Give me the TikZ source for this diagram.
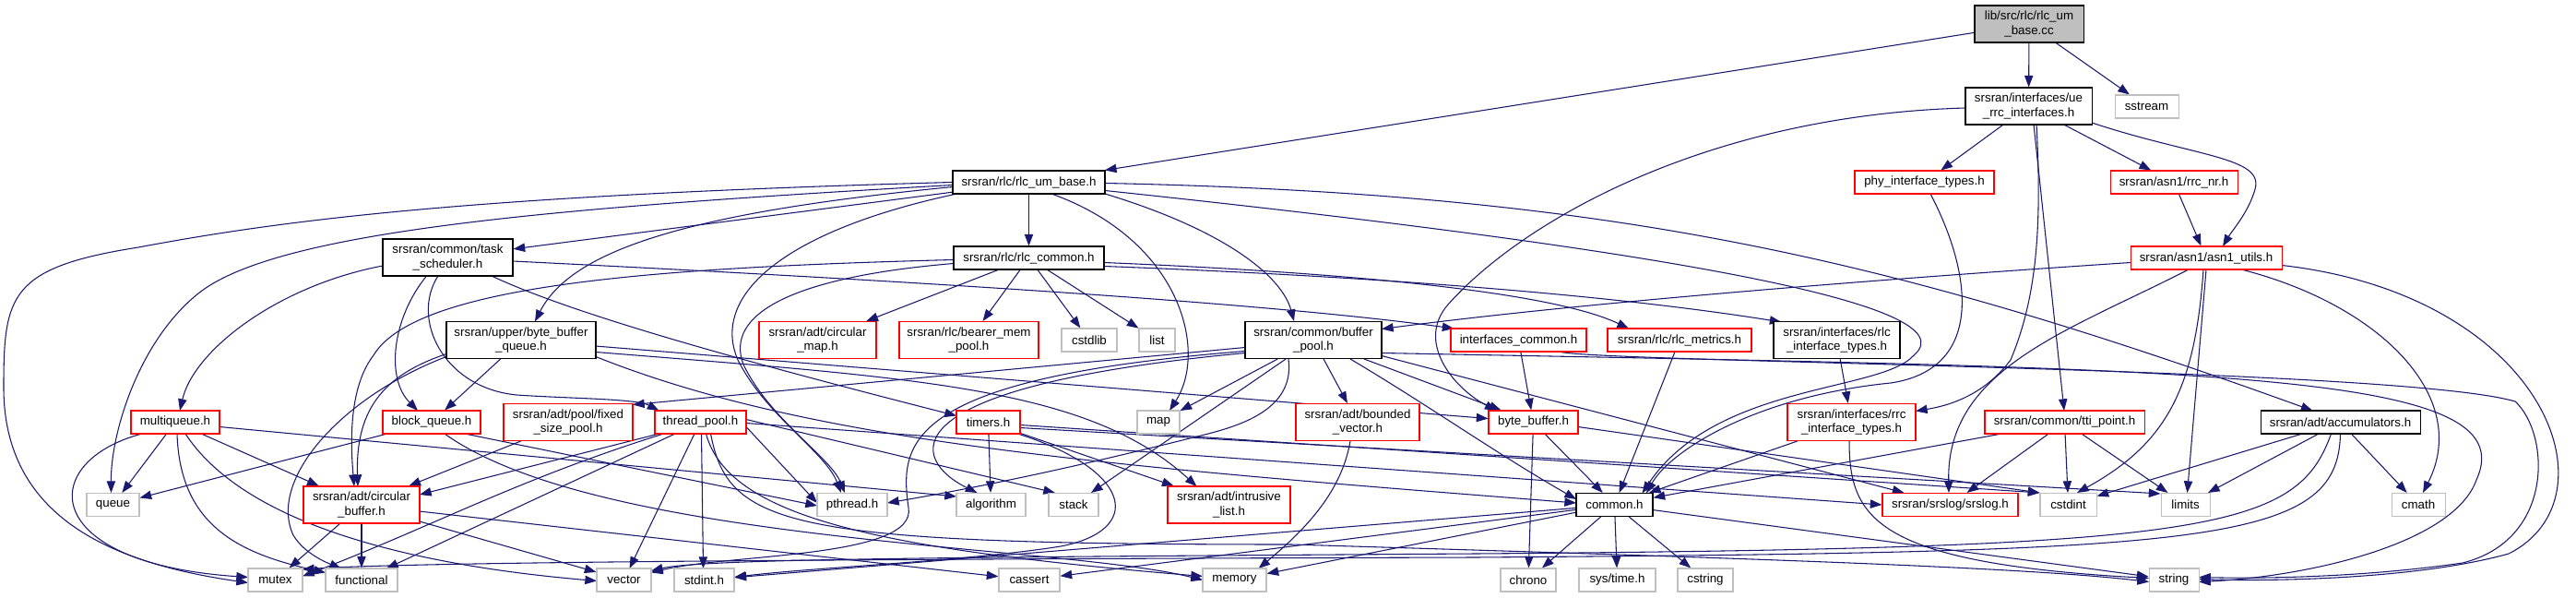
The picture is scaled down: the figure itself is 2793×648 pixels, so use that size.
\documentclass[tikz,border=0pt]{standalone}
\usepackage{fontspec}
\setmainfont{Liberation Sans}
\usetikzlibrary{arrows.meta,calc,backgrounds}
\definecolor{edgec}{HTML}{191970}
\definecolor{redb}{HTML}{FF0000}
\definecolor{grayb}{HTML}{BFBFBF}
\definecolor{rootf}{HTML}{BFBFBF}
\tikzset{
  box/.style={draw=black, line width=0.8pt, inner sep=0pt, align=center, fill=white,
    font=\fontsize{10}{11.5}\selectfont, text=black},
  redbox/.style={box, draw=redb},
  graybox/.style={box, draw=grayb},
  ed/.style={draw=edgec, line width=0.8pt, -{Triangle[length=9.5pt,width=7pt]}},
}
\begin{document}
\begin{tikzpicture}[x=0.75pt,y=-0.75pt]
\useasboundingbox (0,0) rectangle (2793,648);
% ---------------- nodes ----------------
\node[box, fill=rootf, minimum width=118*0.75pt, minimum height=40*0.75pt] (root) at (2200,26) {lib/src/rlc/rlc\_um\\\_base.cc};
\node[box, minimum width=137*0.75pt, minimum height=40*0.75pt] (uerrc) at (2199.5,115) {srsran/interfaces/ue\\\_rrc\_interfaces.h};
\node[graybox, minimum width=69*0.75pt, minimum height=25*0.75pt] (sstream) at (2327.5,115.5) {sstream};
\node[box, minimum width=165*0.75pt, minimum height=25*0.75pt] (rlcumbase) at (1115.5,197.5) {srsran/rlc/rlc\_um\_base.h};
\node[redbox, minimum width=151*0.75pt, minimum height=25*0.75pt] (phy) at (2086.5,197.5) {phy\_interface\_types.h};
\node[redbox, minimum width=138*0.75pt, minimum height=25*0.75pt] (rrcnr) at (2357,197.5) {srsran/asn1/rrc\_nr.h};
\node[box, minimum width=141*0.75pt, minimum height=40*0.75pt] (task) at (485.5,279) {srsran/common/task\\\_scheduler.h};
\node[box, minimum width=163*0.75pt, minimum height=25*0.75pt] (rlccommon) at (1115.5,279.5) {srsran/rlc/rlc\_common.h};
\node[redbox, minimum width=164*0.75pt, minimum height=25*0.75pt] (asn1) at (2392,279.5) {srsran/asn1/asn1\_utils.h};
\node[box, minimum width=162*0.75pt, minimum height=40*0.75pt] (bbq) at (565,368.5) {srsran/upper/byte\_buffer\\\_queue.h};
\node[redbox, minimum width=127*0.75pt, minimum height=40*0.75pt] (circmap) at (886.5,368.5) {srsran/adt/circular\\\_map.h};
\node[redbox, minimum width=151*0.75pt, minimum height=40*0.75pt] (bearer) at (1050.5,368.5) {srsran/rlc/bearer\_mem\\\_pool.h};
\node[graybox, minimum width=60*0.75pt, minimum height=25*0.75pt] (cstdlib) at (1181,368.5) {cstdlib};
\node[graybox, minimum width=39*0.75pt, minimum height=25*0.75pt] (list) at (1254.5,368.5) {list};
\node[box, minimum width=148*0.75pt, minimum height=40*0.75pt] (bufpool) at (1424,368.5) {srsran/common/buffer\\\_pool.h};
\node[redbox, minimum width=147*0.75pt, minimum height=25*0.75pt] (ifcommon) at (1646.5,368.5) {interfaces\_common.h};
\node[redbox, minimum width=156*0.75pt, minimum height=25*0.75pt] (rlcmetrics) at (1821,368.5) {srsran/rlc/rlc\_metrics.h};
\node[box, minimum width=137*0.75pt, minimum height=40*0.75pt] (rlcif) at (1991.5,368.5) {srsran/interfaces/rlc\\\_interface\_types.h};
\node[redbox, minimum width=96*0.75pt, minimum height=25*0.75pt] (multiqueue) at (190,457.5) {multiqueue.h};
\node[redbox, minimum width=106*0.75pt, minimum height=25*0.75pt] (blockq) at (468,457.5) {block\_queue.h};
\node[redbox, minimum width=140*0.75pt, minimum height=40*0.75pt] (fixedpool) at (616,457.5) {srsran/adt/pool/fixed\\\_size\_pool.h};
\node[redbox, minimum width=99*0.75pt, minimum height=25*0.75pt] (threadpool) at (759.5,457.5) {thread\_pool.h};
\node[redbox, minimum width=69*0.75pt, minimum height=25*0.75pt] (timers) at (1071.5,457.5) {timers.h};
\node[graybox, minimum width=46*0.75pt, minimum height=25*0.75pt] (map) at (1256,457.5) {map};
\node[redbox, minimum width=134*0.75pt, minimum height=40*0.75pt] (boundedvec) at (1472,457.5) {srsran/adt/bounded\\\_vector.h};
\node[redbox, minimum width=97*0.75pt, minimum height=25*0.75pt] (bytebuffer) at (1662.5,457.5) {byte\_buffer.h};
\node[redbox, minimum width=139*0.75pt, minimum height=40*0.75pt] (rrcif) at (2007.5,457.5) {srsran/interfaces/rrc\\\_interface\_types.h};
\node[redbox, minimum width=173*0.75pt, minimum height=25*0.75pt] (tti) at (2238.5,457.5) {srsran/common/tti\_point.h};
\node[box, minimum width=173*0.75pt, minimum height=25*0.75pt] (accum) at (2537.5,457.5) {srsran/adt/accumulators.h};
\node[graybox, minimum width=57*0.75pt, minimum height=25*0.75pt] (queue) at (122.5,547) {queue};
\node[redbox, minimum width=126*0.75pt, minimum height=40*0.75pt] (circbuf) at (392,547) {srsran/adt/circular\\\_buffer.h};
\node[graybox, minimum width=76*0.75pt, minimum height=25*0.75pt] (pthread) at (924,547) {pthread.h};
\node[graybox, minimum width=75*0.75pt, minimum height=25*0.75pt] (algorithm) at (1074.5,547) {algorithm};
\node[graybox, minimum width=54*0.75pt, minimum height=25*0.75pt] (stack) at (1164,547) {stack};
\node[redbox, minimum width=133*0.75pt, minimum height=40*0.75pt] (intrusive) at (1332.5,547) {srsran/adt/intrusive\\\_list.h};
\node[box, minimum width=83*0.75pt, minimum height=25*0.75pt] (common) at (1750.5,547) {common.h};
\node[redbox, minimum width=147*0.75pt, minimum height=25*0.75pt] (srslog) at (2114.5,547) {srsran/srslog/srslog.h};
\node[graybox, minimum width=61*0.75pt, minimum height=25*0.75pt] (cstdint) at (2242.5,547) {cstdint};
\node[graybox, minimum width=53*0.75pt, minimum height=25*0.75pt] (limits) at (2369.5,547) {limits};
\node[graybox, minimum width=58*0.75pt, minimum height=25*0.75pt] (cmath) at (2622,547) {cmath};
\node[graybox, minimum width=59*0.75pt, minimum height=25*0.75pt] (mutex) at (298.5,628.5) {mutex};
\node[graybox, minimum width=78*0.75pt, minimum height=25*0.75pt] (functional) at (392,628.5) {functional};
\node[graybox, minimum width=59*0.75pt, minimum height=25*0.75pt] (vector) at (676.5,628.5) {vector};
\node[graybox, minimum width=65*0.75pt, minimum height=25*0.75pt] (stdint) at (763.5,628.5) {stdint.h};
\node[graybox, minimum width=66*0.75pt, minimum height=25*0.75pt] (cassert) at (1116,628.5) {cassert};
\node[graybox, minimum width=69*0.75pt, minimum height=25*0.75pt] (memory) at (1338.5,628.5) {memory};
\node[graybox, minimum width=60*0.75pt, minimum height=25*0.75pt] (chrono) at (1657,628.5) {chrono};
\node[graybox, minimum width=83*0.75pt, minimum height=25*0.75pt] (systime) at (1753.5,628.5) {sys/time.h};
\node[graybox, minimum width=60*0.75pt, minimum height=25*0.75pt] (cstring) at (1849,628.5) {cstring};
\node[graybox, minimum width=54*0.75pt, minimum height=25*0.75pt] (string) at (2357,628.5) {string};
% ---------------- edges ----------------
\begin{pgfonlayer}{background}
\fill[white] (0,0) rectangle (2793,648);
% root
\draw[ed] (root) -- (rlcumbase);
\draw[ed] (root) -- (uerrc);
\draw[ed] (root) -- (sstream);
% ue_rrc_interfaces
\draw[ed] (uerrc) -- (phy);
\draw[ed] (uerrc) -- (rrcnr);
\draw[ed] ($(uerrc)+(5.5,20)$) -- ($(tti)+(-0.5,-12.5)$);
\draw[ed] ($(uerrc)+(68.5,18)$) .. controls (2380,170) and (2455,170) .. (2445,205) .. controls (2438,230) and (2420,250) .. ($(asn1)+(18,-12.5)$);
\draw[ed] ($(uerrc)+(-68.5,2)$) .. controls (1850,125) and (1650,240) .. (1570,330) .. controls (1535,370) and (1575,420) .. ($(bytebuffer)+(-40,-12.5)$);
\draw[ed] ($(uerrc)+(8.5,20)$) .. controls (2215,260) and (2205,330) .. (2180,390) .. controls (2150,430) and (2110,440) .. ($(rrcif)+(69.5,-12)$);
\draw[ed] (rrcnr) -- (asn1);
\draw[ed] ($(phy)+(6.5,12.5)$) .. controls (2140,300) and (2150,400) .. (2050,415) .. controls (1900,430) and (1810,490) .. ($(common)+(34.5,-12.5)$);
% asn1_utils
\draw[ed] ($(asn1)+(-82,5)$) .. controls (2000,305) and (1700,330) .. ($(bufpool)+(74,-12)$);
\draw[ed] ($(asn1)+(-19,12.5)$) .. controls (2240,360) and (2110,400) .. ($(srslog)+(-1.5,-13)$);
\draw[ed] ($(asn1)+(-3,12.5)$) .. controls (2380,420) and (2350,480) .. ($(cstdint)+(9.5,-13)$);
\draw[ed] ($(asn1)+(0,12.5)$) -- ($(limits)+(2,-13)$);
\draw[ed] ($(asn1)+(38,12.5)$) .. controls (2580,330) and (2680,430) .. ($(cmath)+(5,-13)$);
\draw[ed] ($(asn1)+(82,8)$) .. controls (2760,320) and (2840,540) .. (2720,600) .. controls (2620,628) and (2460,630) .. ($(string)+(27,-1)$);
% rlc_um_base.h
\draw[ed] (rlcumbase) -- (task);
\draw[ed] (rlcumbase) -- (rlccommon);
\draw[ed] ($(rlcumbase)+(-82.5,5)$) .. controls (750,230) and (620,270) .. ($(bbq)+(15,-20)$);
\draw[ed] ($(rlcumbase)+(82.5,12.5)$) .. controls (1330,250) and (1390,300) .. ($(bufpool)+(-21,-20.5)$);
\draw[ed] ($(rlcumbase)+(82.5,1)$) .. controls (1750,210) and (2050,280) .. ($(accum)+(-30,-12.5)$);
\draw[ed] ($(rlcumbase)+(82.5,9)$) .. controls (1800,270) and (2140,330) .. (2075,385) .. controls (2040,425) and (1860,415) .. ($(common)+(30,-12.5)$);
\draw[ed] ($(rlcumbase)+(24.5,12.5)$) .. controls (1280,260) and (1310,380) .. ($(map)+(12,-12.5)$);
\draw[ed] (rlcumbase.west) .. controls (500,212) and (300,240) .. (150,268) .. controls (10,290) and (4,320) .. (4,420) .. controls (4,560) and (120,610) .. ($(mutex)+(-29.5,3)$);
\draw[ed] ($(rlcumbase)+(-82.5,3)$) .. controls (600,225) and (300,250) .. (215,318) .. controls (150,370) and (120,470) .. ($(queue)+(-2,-13)$);
\draw[ed] ($(rlcumbase)+(-78,12.5)$) .. controls (850,250) and (770,320) .. (800,390) .. controls (830,450) and (895,490) .. ($(pthread)+(-12,-13)$);
% rlc_common.h
\draw[ed] (rlccommon) -- (circmap);
\draw[ed] (rlccommon) -- (bearer);
\draw[ed] (rlccommon) -- (cstdlib);
\draw[ed] (rlccommon) -- (list);
\draw[ed] ($(rlccommon)+(81.5,5)$) .. controls (1450,295) and (1680,315) .. ($(rlcmetrics)+(-55,-12.5)$);
\draw[ed] ($(rlccommon)+(81.5,9)$) .. controls (1500,300) and (1750,320) .. ($(rlcif)+(-60,-19.5)$);
\draw[ed] ($(rlccommon)+(-81.5,2)$) .. controls (700,290) and (450,310) .. (405,385) .. controls (378,420) and (380,480) .. ($(circbuf)+(-8,-20)$);
\draw[ed] ($(rlccommon)+(-81.5,6)$) .. controls (860,300) and (785,340) .. (806,395) .. controls (835,455) and (900,495) .. ($(pthread)+(-8,-13)$);
% task_scheduler.h
\draw[ed] ($(task)+(-70.5,9)$) .. controls (300,310) and (210,380) .. ($(multiqueue)+(5,-12.5)$);
\draw[ed] ($(task)+(-10.5,20)$) .. controls (445,345) and (480,420) .. (560,428) .. controls (620,432) and (690,432) .. ($(threadpool)+(-45,-12.5)$);
\draw[ed] ($(task)+(-23,20)$) .. controls (425,345) and (418,410) .. ($(blockq)+(-15,-12.5)$);
\draw[ed] ($(task)+(47.5,20)$) .. controls (620,340) and (800,390) .. ($(timers)+(-34.5,-7)$);
\draw[ed] ($(task)+(70.5,4)$) .. controls (900,300) and (1350,325) .. ($(ifcommon)+(-70,-12.5)$);
% byte_buffer_queue.h
\draw[ed] (bbq) -- (blockq);
\draw[ed] ($(bbq)+(-81,15)$) .. controls (420,405) and (385,440) .. ($(circbuf)+(-4,-20)$);
\draw[ed] ($(bbq)+(-81,18)$) .. controls (370,430) and (290,520) .. (318,580) .. controls (330,600) and (355,610) .. ($(functional)+(-22,-12.5)$);
\draw[ed] (bbq) -- (bytebuffer);
\draw[ed] ($(bbq)+(81,18)$) .. controls (880,480) and (1200,505) .. ($(common)+(-41.5,-2)$);
\draw[ed] ($(bbq)+(81,13)$) .. controls (1000,410) and (1180,420) .. ($(intrusive)+(-35,-20)$);
% multiqueue.h
\draw[ed] (multiqueue) -- (queue);
\draw[ed] ($(multiqueue)+(-36,12.5)$) .. controls (40,500) and (40,610) .. ($(mutex)+(-29.5,-3)$);
\draw[ed] ($(multiqueue)+(2,12.5)$) .. controls (195,570) and (260,600) .. ($(functional)+(-39,-8)$);
\draw[ed] ($(multiqueue)+(11,12.5)$) .. controls (260,560) and (420,610) .. ($(vector)+(-29.5,1)$);
\draw[ed] (multiqueue) -- (circbuf);
\draw[ed] ($(multiqueue)+(48,5)$) -- ($(algorithm)+(-37.5,-9)$);
% block_queue.h
\draw[ed] (blockq) -- (queue);
\draw[ed] ($(blockq)+(36,12.5)$) -- ($(pthread)+(-38,1)$);
\draw[ed] ($(blockq)+(14,12.5)$) .. controls (650,590) and (1150,590) .. ($(memory)+(-34.5,0)$);
% fixed_size_pool.h
\draw[ed] (fixedpool) -- (circbuf);
% thread_pool.h
\draw[ed] ($(threadpool)+(-45,12.5)$) -- ($(circbuf)+(63,-11)$);
\draw[ed] ($(threadpool)+(-40,12.5)$) .. controls (560,520) and (470,570) .. ($(mutex)+(29.5,-4)$);
\draw[ed] ($(threadpool)+(-27.5,12.5)$) -- ($(functional)+(27,-12.5)$);
\draw[ed] ($(threadpool)+(-6.5,12.5)$) -- ($(vector)+(6,-12.5)$);
\draw[ed] ($(threadpool)+(1,12.5)$) -- ($(stdint)+(-1,-12.5)$);
\draw[ed] ($(threadpool)+(6,12.5)$) .. controls (790,560) and (950,595) .. ($(memory)+(-34.5,-4)$);
\draw[ed] ($(threadpool)+(11,12.5)$) .. controls (790,570) and (850,590) .. (1400,590) .. controls (1900,605) and (2200,615) .. ($(string)+(-27,2)$);
\draw[ed] ($(threadpool)+(49.5,5)$) -- ($(pthread)+(-38,-2)$);
\draw[ed] ($(threadpool)+(49.5,-3)$) -- ($(stack)+(-20,-13)$);
\draw[ed] ($(threadpool)+(49.5,1)$) -- (srslog.west);
% timers.h
\draw[ed] (timers) -- (algorithm);
\draw[ed] (timers) -- (intrusive);
\draw[ed] ($(timers)+(32,12.5)$) .. controls (1230,510) and (1240,575) .. (1150,592) .. controls (1050,608) and (880,615) .. ($(stdint)+(32.5,-3)$);
\draw[ed] ($(timers)+(34.5,3)$) -- (cstdint.north west);
\draw[ed] ($(timers)+(34.5,6)$) -- ($(limits.north west)+(0,1)$);
% buffer_pool.h
\draw[ed] (bufpool) -- (map);
\draw[ed] (bufpool) -- (stack);
\draw[ed] ($(bufpool)+(-74,14)$) .. controls (950,420) and (990,500) .. ($(algorithm)+(-15,-13)$);
\draw[ed] ($(bufpool)+(-74,12)$) .. controls (980,410) and (975,480) .. (985,550) .. controls (995,605) and (790,600) .. ($(vector)+(29.5,-8)$);
\draw[ed] ($(bufpool)+(-27,20.5)$) .. controls (1405,450) and (1330,465) .. (1290,475) .. controls (1150,510) and (1050,530) .. ($(pthread)+(38,-2)$);
\draw[ed] ($(bufpool)+(-74,8)$) -- ($(fixedpool)+(70,-19)$);
\draw[ed] (bufpool) -- (boundedvec);
\draw[ed] (bufpool) -- (bytebuffer);
\draw[ed] ($(bufpool)+(40,20.5)$) .. controls (1550,440) and (1620,490) .. ($(common)+(-41.5,-6)$);
\draw[ed] ($(bufpool)+(74,17)$) -- ($(srslog)+(-50,-13)$);
\draw[ed] ($(bufpool)+(74,14)$) .. controls (2400,400) and (2740,400) .. (2685,520) .. controls (2660,590) and (2500,625) .. ($(string)+(27,2)$);
% bounded_vector.h
\draw[ed] ($(boundedvec)+(-8,20.5)$) .. controls (1455,530) and (1420,570) .. ($(memory)+(26,-12.5)$);
% byte_buffer.h
\draw[ed] (bytebuffer) -- (common);
\draw[ed] (bytebuffer) -- (chrono);
\draw[ed] ($(bytebuffer)+(48.5,5)$) -- (cstdint.north west);
% interfaces_common.h
\draw[ed] (ifcommon) -- (bytebuffer);
\draw[ed] ($(ifcommon)+(43.5,12.5)$) .. controls (1730,393) and (2600,398) .. (2727,435) .. controls (2765,470) and (2770,585) .. (2670,610) .. controls (2560,626) and (2450,627) .. ($(string)+(27,-3)$);
% rlc_metrics.h, rlc_interface_types.h
\draw[ed] (rlcmetrics) -- (common);
\draw[ed] (rlcif) -- (rrcif);
% rrc_interface_types.h
\draw[ed] (rrcif) -- (common);
\draw[ed] ($(rrcif)+(-2.5,20)$) .. controls (2005,560) and (2030,610) .. ($(string)+(-27,-2)$);
% tti_point.h
\draw[ed] (tti) -- (common);
\draw[ed] (tti) -- (srslog);
\draw[ed] (tti) -- (cstdint);
\draw[ed] (tti) -- (limits);
% accumulators.h
\draw[ed] (accum) -- (cstdint);
\draw[ed] (accum) -- (limits);
\draw[ed] (accum) -- (cmath);
\draw[ed] ($(accum)+(0,12.5)$) .. controls (2535,590) and (2400,598) .. (1600,604) .. controls (900,606) and (450,609) .. ($(mutex)+(29.5,-11.5)$);
\draw[ed] ($(accum)+(-10,12.5)$) .. controls (2490,575) and (2400,594) .. (1600,600) .. controls (1000,604) and (760,606) .. ($(vector)+(29.5,-10)$);
% circular_buffer.h
\draw[ed] (circbuf) -- (mutex);
\draw[ed] (circbuf) -- (functional);
\draw[ed] (circbuf) -- (vector);
\draw[ed] (circbuf) -- (cassert);
% common.h
\draw[ed] (common) -- (chrono);
\draw[ed] (common) -- (systime);
\draw[ed] (common) -- (cstring);
\draw[ed] (common) -- (string);
\draw[ed] (common) -- (stdint);
\draw[ed] (common) -- (memory);
\draw[ed] (common) -- (cassert);
\end{pgfonlayer}
\end{tikzpicture}
\end{document}
